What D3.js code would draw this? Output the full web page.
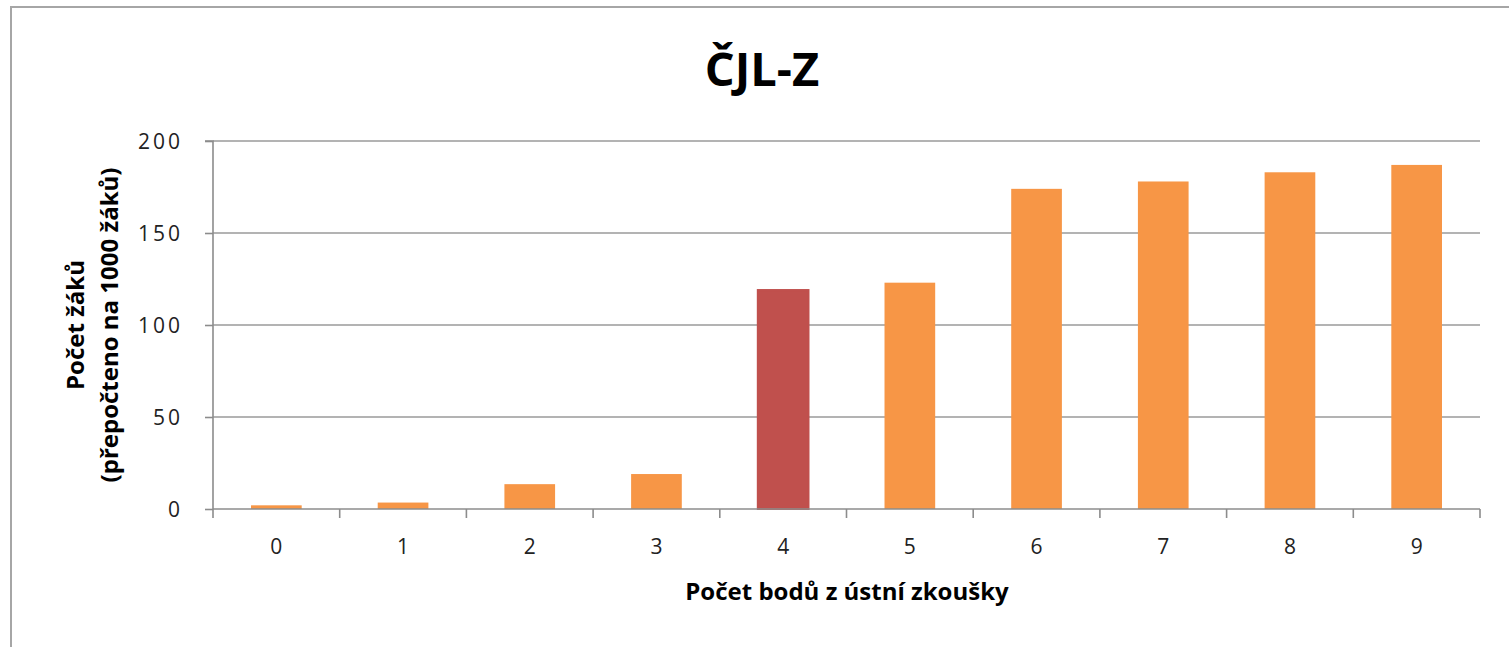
<!DOCTYPE html>
<html><head><meta charset="utf-8">
<script src="https://cdn.jsdelivr.net/npm/d3@7"></script>
<style>body{margin:0;background:#fff;} svg{display:block;}</style>
</head><body>
<svg id="chart" width="1509" height="647"></svg>
<script>
const categories = ["0","1","2","3","4","5","6","7","8","9"];
const values = [2, 3.5, 13.5, 19, 119, 123, 174, 178, 183, 187];
const highlight = ["4"];
const yTicks = [0, 50, 100, 150, 200];
const title = "ČJL-Z";
const xTitle = "Počet bodů z ústní zkoušky";
const yTitle = ["Počet žáků", "(přepočteno na 1000 žáků)"];

const svg = d3.select("#chart");
const W = 1509, H = 647;
const m = {left: 213, right: 1480, top: 141, bottom: 509};

svg.append("rect").attr("x", 11).attr("y", 7).attr("width", W + 20).attr("height", H + 20)
  .attr("fill", "#fff").attr("stroke", "#a6a6a6").attr("stroke-width", 2);

const x = d3.scaleBand().domain(categories).range([m.left, m.right]).paddingInner(0.6).paddingOuter(0.3);
const xb = d3.scaleBand().domain(categories).range([m.left, m.right]);
const y = d3.scaleLinear().domain([0, 200]).range([m.bottom, m.top]);

const font = "'Open Sans', 'Liberation Sans', sans-serif";

// gridlines
svg.append("g").selectAll("line").data(yTicks.filter(d => d > 0)).join("line")
  .attr("x1", m.left).attr("x2", m.right)
  .attr("y1", d => y(d)).attr("y2", d => y(d))
  .attr("stroke", "#9a9a9a").attr("stroke-width", 1.6);

// bars
svg.append("g").selectAll("rect").data(categories).join("rect")
  .attr("x", d => x(d)).attr("width", x.bandwidth())
  .attr("y", (d, i) => y(values[i]))
  .attr("height", (d, i) => y(0) - y(values[i]))
  .attr("fill", d => highlight.includes(d) ? "#C0504D" : "#F79646")
  .attr("stroke", d => highlight.includes(d) ? "#C0504D" : "none")
  .attr("stroke-width", 2);

// y axis
const yAxis = d3.axisLeft(y).tickValues(yTicks).tickSize(8).tickPadding(22);
const gy = svg.append("g").attr("transform", `translate(${m.left},0)`).call(yAxis);
gy.select(".domain").attr("stroke", "#8c8c8c").attr("stroke-width", 1.6).attr("d", `M-8,${m.top}H0V${m.bottom}`);
gy.selectAll(".tick line").attr("stroke", "#8c8c8c").attr("stroke-width", 1.6);
gy.selectAll(".tick text").attr("font-family", font).attr("font-size", 21).attr("fill", "#222")
  .attr("letter-spacing", 3).attr("dy", "0.35em");

// x axis (ticks at band boundaries)
const gx = svg.append("g").attr("transform", `translate(0,${m.bottom})`);
gx.append("line").attr("x1", m.left).attr("x2", m.right).attr("stroke", "#8c8c8c").attr("stroke-width", 1.6);
const bounds = categories.map(c => xb(c)).concat([m.right]);
gx.selectAll("line.t").data(bounds).join("line").attr("class", "t")
  .attr("x1", d => d).attr("x2", d => d).attr("y1", 0).attr("y2", 9)
  .attr("stroke", "#8c8c8c").attr("stroke-width", 1.6);
gx.selectAll("text").data(categories).join("text")
  .attr("x", d => xb(d) + xb.bandwidth() / 2).attr("y", 45)
  .attr("text-anchor", "middle").attr("font-family", font).attr("font-size", 21).attr("fill", "#222")
  .text(d => d);

// title
svg.append("text").attr("x", 762).attr("y", 86).attr("text-anchor", "middle")
  .attr("font-family", font).attr("font-weight", "bold").attr("font-size", 47).attr("fill", "#000")
  .text(title);

// x title
svg.append("text").attr("x", 847).attr("y", 600).attr("text-anchor", "middle")
  .attr("font-family", font).attr("font-weight", "bold").attr("font-size", 24).attr("fill", "#000")
  .text(xTitle);

// y title
const yt = svg.append("text").attr("transform", "translate(84,325) rotate(-90)")
  .attr("text-anchor", "middle").attr("font-family", font).attr("font-weight", "bold")
  .attr("font-size", 24).attr("fill", "#000");
yTitle.forEach((t, i) => yt.append("tspan").attr("x", 0).attr("dy", i === 0 ? 0 : 34).text(t));
</script>
</body></html>
